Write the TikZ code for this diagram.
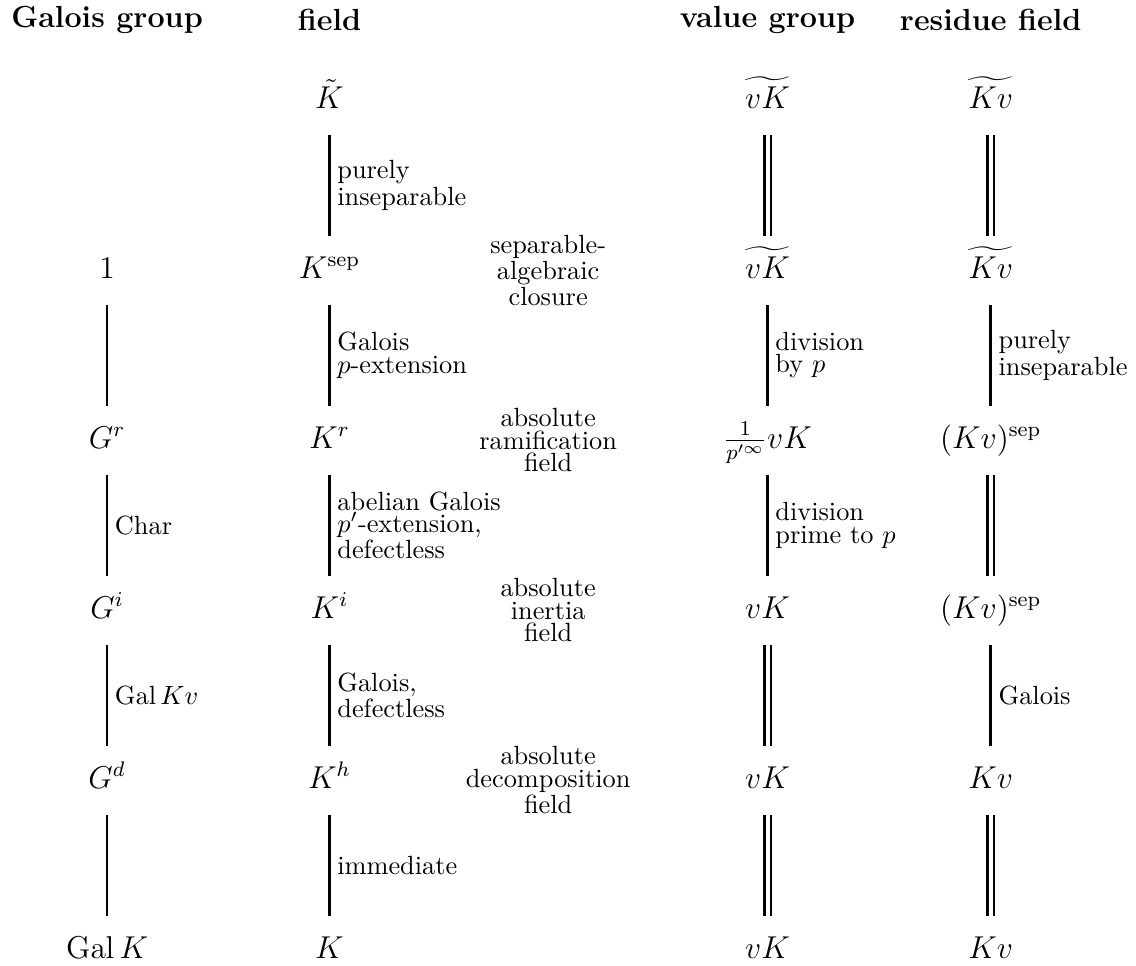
\documentclass[tikz,border=0pt]{standalone}
\usepackage{amsmath,amssymb}
\usepackage{tikz}
\usetikzlibrary{positioning}
\tikzset{
    every node/.style={font=\fontsize{11.5}{14}\selectfont},
    colhead/.style={font=\fontsize{11.6}{14}\selectfont\bfseries},
    obj/.style={inner sep=0pt,text height=9pt,text depth=3pt},
    lbl/.style={anchor=west,align=left,inner sep=2.5pt,font=\fontsize{10}{8.5}\selectfont},
    midlbl/.style={align=center,font=\fontsize{10}{8.5}\selectfont},
    ext/.style={line width=1pt,shorten <=7pt,shorten >=7pt},
    eq/.style={ext,double,double distance=1.5pt}
}

\begin{document}
\begin{tikzpicture}
\useasboundingbox (0,0) rectangle (15.17,12.89);
% column heads
\foreach \n/\x/\txt in {hg/1.43/Galois group,hf/4.40/field,hv/10.25/value group,hr/13.23/residue field}
    \node[colhead] (\n) at (\x,12.62) {\txt};
% the four towers
\foreach \i/\txt in {1/1,2/G^r,3/G^i,4/G^d,5/{\mathrm{Gal}\,K}}
    \node[obj] (g\i) at (1.43,11.55-2.27*\i) {$\txt$};
\foreach \i/\txt in {0/\tilde K,1/K^{\mathrm{sep}},2/K^r,3/K^i,4/K^h,5/K}
    \node[obj] (f\i) at (4.40,11.55-2.27*\i) {$\txt$};
\foreach \i/\txt in {0/\widetilde{vK},1/\widetilde{vK},2/{\frac{1}{p'^\infty}vK},3/vK,4/vK,5/vK}
    \node[obj] (v\i) at (10.25,11.55-2.27*\i) {$\txt$};
\foreach \i/\txt in {0/\widetilde{Kv},1/\widetilde{Kv},2/(Kv)^{\mathrm{sep}},3/(Kv)^{\mathrm{sep}},4/Kv,5/Kv}
    \node[obj] (r\i) at (13.23,11.55-2.27*\i) {$\txt$};
% names of the fields
\foreach \i/\txt in {1/{separable-\\algebraic\\closure},2/{absolute\\ramification\\field},3/{absolute\\inertia\\field},4/{absolute\\decomposition\\field}}
    \node[midlbl] (m\i) at (7.32,11.55-2.27*\i) {\txt};

\draw[ext] (g1) -- (g2);
\draw[ext] (g2) -- node[lbl] {Char} (g3);
\draw[ext] (g3) -- node[lbl] {$\mathrm{Gal}\,Kv$} (g4);
\draw[ext] (g4) -- (g5);

\draw[ext] (f0) -- node[lbl] {purely\\inseparable} (f1);
\draw[ext] (f1) -- node[lbl] {Galois\\$p$-extension} (f2);
\draw[ext] (f2) -- node[lbl] {abelian Galois\\$p'$-extension,\\defectless} (f3);
\draw[ext] (f3) -- node[lbl] {Galois,\\defectless} (f4);
\draw[ext] (f4) -- node[lbl] {immediate} (f5);

\draw[eq] (v0) -- (v1);
\draw[ext] (v1) -- node[lbl] {division\\by $p$} (v2);
\draw[ext] (v2) -- node[lbl] {division\\prime to $p$} (v3);
\draw[eq] (v3) -- (v4);
\draw[eq] (v4) -- (v5);

\draw[eq] (r0) -- (r1);
\draw[ext] (r1) -- node[lbl] {purely\\inseparable} (r2);
\draw[eq] (r2) -- (r3);
\draw[ext] (r3) -- node[lbl] {Galois} (r4);
\draw[eq] (r4) -- (r5);
\end{tikzpicture}
\end{document}
